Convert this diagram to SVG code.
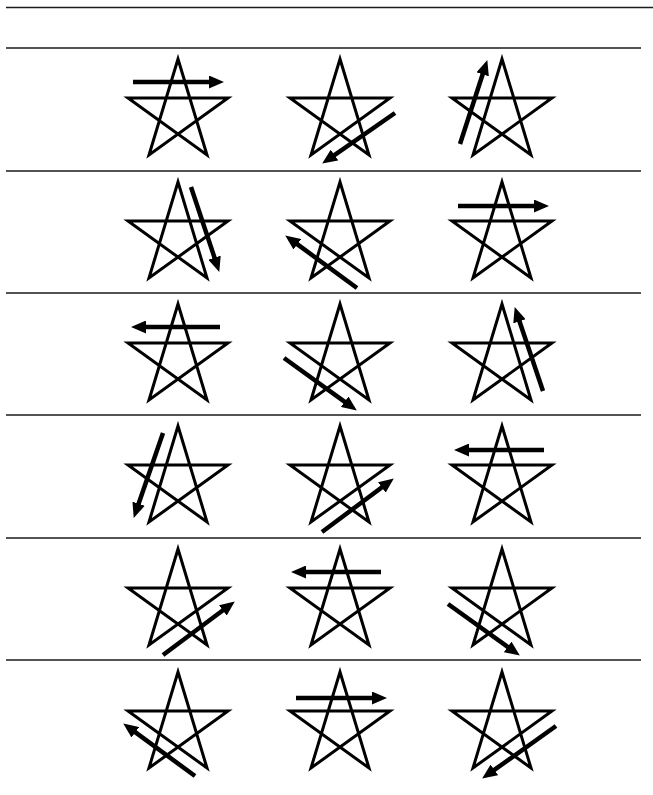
<svg xmlns="http://www.w3.org/2000/svg" xmlns:xlink="http://www.w3.org/1999/xlink" width="653" height="795" viewBox="0 0 653 795">
<style>
.rule{stroke:#1a1a1a;stroke-width:1.6;fill:none}
.star{fill:none;stroke:#000;stroke-width:3;stroke-linejoin:miter}
.arrow{stroke:#000;stroke-width:4.5;fill:none;marker-end:url(#head)}
</style>
<defs>
<path id="pent" class="star" d="M0,11 L29,107 L-50,50 L50,50 L-29,107 Z"/>
<marker id="head" markerUnits="userSpaceOnUse" markerWidth="16" markerHeight="13" refX="4" refY="6.5" orient="auto">
<path d="M0,0 L15,6.5 L0,13 Z" fill="#000"/>
</marker>
</defs>
<rect width="653" height="795" fill="#fff"/>
<g id="rules">
<line class="rule" x1="6" y1="7.5" x2="653" y2="7.5"/>
<line class="rule" x1="6" y1="48" x2="641" y2="48" stroke-width="2"/>
<line class="rule" x1="6" y1="171" x2="641" y2="171"/>
<line class="rule" x1="6" y1="293" x2="641" y2="293"/>
<line class="rule" x1="6" y1="415" x2="641" y2="415"/>
<line class="rule" x1="6" y1="538" x2="641" y2="538"/>
<line class="rule" x1="6" y1="660" x2="641" y2="660"/>
</g>
<g id="star-r1c1"><use xlink:href="#pent" x="178" y="48"/></g>
<g id="star-r1c2"><use xlink:href="#pent" x="340" y="48"/></g>
<g id="star-r1c3"><use xlink:href="#pent" x="502" y="48"/></g>
<g id="star-r2c1"><use xlink:href="#pent" x="178" y="171"/></g>
<g id="star-r2c2"><use xlink:href="#pent" x="340" y="171"/></g>
<g id="star-r2c3"><use xlink:href="#pent" x="502" y="171"/></g>
<g id="star-r3c1"><use xlink:href="#pent" x="178" y="293"/></g>
<g id="star-r3c2"><use xlink:href="#pent" x="340" y="293"/></g>
<g id="star-r3c3"><use xlink:href="#pent" x="502" y="293"/></g>
<g id="star-r4c1"><use xlink:href="#pent" x="178" y="415"/></g>
<g id="star-r4c2"><use xlink:href="#pent" x="340" y="415"/></g>
<g id="star-r4c3"><use xlink:href="#pent" x="502" y="415"/></g>
<g id="star-r5c1"><use xlink:href="#pent" x="178" y="538"/></g>
<g id="star-r5c2"><use xlink:href="#pent" x="340" y="538"/></g>
<g id="star-r5c3"><use xlink:href="#pent" x="502" y="538"/></g>
<g id="star-r6c1"><use xlink:href="#pent" x="178" y="661"/></g>
<g id="star-r6c2"><use xlink:href="#pent" x="340" y="661"/></g>
<g id="star-r6c3"><use xlink:href="#pent" x="502" y="661"/></g>
<g id="arrows">
<line class="arrow" x1="133" y1="82" x2="213" y2="82"/>
<line class="arrow" x1="395" y1="113" x2="331.2" y2="157.3"/>
<line class="arrow" x1="460" y1="144" x2="483.9" y2="70.5"/>
<line class="arrow" x1="191" y1="187" x2="215.8" y2="261.5"/>
<line class="arrow" x1="357" y1="288" x2="294.1" y2="241.9"/>
<line class="arrow" x1="458" y1="206" x2="538" y2="206"/>
<line class="arrow" x1="220" y1="327" x2="142" y2="327"/>
<line class="arrow" x1="284" y1="358" x2="347.9" y2="404.1"/>
<line class="arrow" x1="543" y1="391" x2="518.2" y2="317.5"/>
<line class="arrow" x1="163" y1="433" x2="137.3" y2="507.5"/>
<line class="arrow" x1="322" y1="532" x2="385" y2="485"/>
<line class="arrow" x1="544" y1="450" x2="465" y2="450"/>
<line class="arrow" x1="163" y1="655" x2="226" y2="608"/>
<line class="arrow" x1="381" y1="572" x2="302" y2="572"/>
<line class="arrow" x1="448" y1="604" x2="510.9" y2="649.2"/>
<line class="arrow" x1="195" y1="776" x2="132.1" y2="729.9"/>
<line class="arrow" x1="296" y1="698" x2="376" y2="698"/>
<line class="arrow" x1="556" y1="726" x2="491.1" y2="772.2"/>
</g>
</svg>
